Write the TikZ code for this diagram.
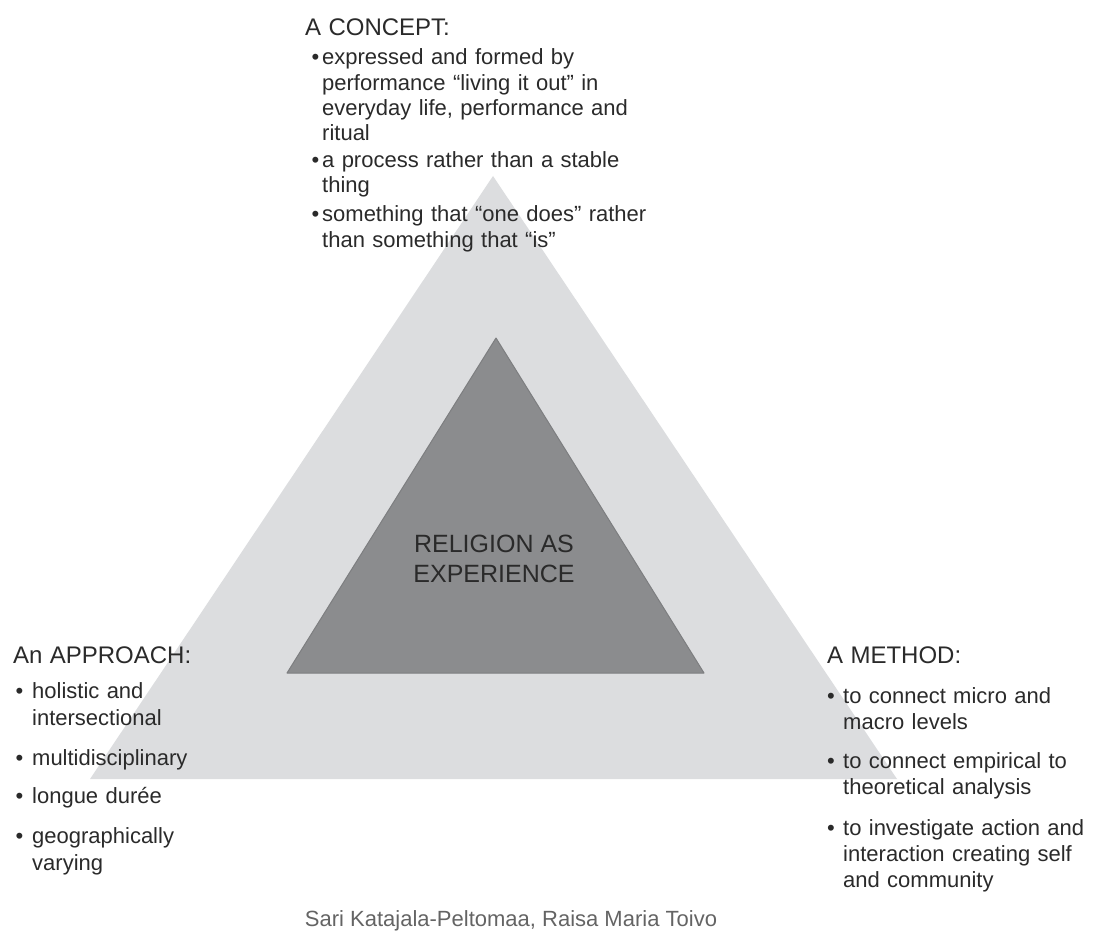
\documentclass[tikz,border=0pt]{standalone}
\usepackage{fontspec}
\setmainfont{Liberation Sans}
\definecolor{outergray}{HTML}{DCDDDF}
\definecolor{innergray}{HTML}{8B8C8E}
\definecolor{inneredge}{HTML}{7D7E80}
\definecolor{textdark}{HTML}{2A2A2A}
\definecolor{footgray}{HTML}{646464}
\newlength\bulshift
\newlength\bulind
\newcommand{\heading}[1]{{\fontsize{24}{28}\selectfont #1\par}}
\newcommand{\bitem}[2][0pt]{\par\vspace{#1}\noindent\hangindent=\bulind\hangafter=1\makebox[\bulind][l]{\hspace{\bulshift}\textbullet}#2\par}
\tikzset{
  block/.style={anchor=base west, inner sep=0pt, align=left, text=textdark,
    font=\fontsize{22}{#1}\selectfont}
}
\begin{document}
\begin{tikzpicture}[x=1pt, y=-1pt, line join=round]
			\useasboundingbox (0,0) rectangle (1105,933);
			\coordinate (OA) at (493,176);
			\coordinate (OL) at (90,779);
			\coordinate (OR) at (897,779);
			\coordinate (IA) at (496,338);
			\coordinate (IL) at (287,673);
			\coordinate (IR) at (704,673);
			% Hai tam giác
			\fill[outergray] (OA)--(OL)--(OR)--cycle;
			\filldraw[fill=innergray, draw=inneredge, line width=1pt] (IA)--(IL)--(IR)--cycle;
			\node[inner sep=0pt, align=center, text=textdark, font=\fontsize{25}{30}\selectfont] (core) at (494,558.5) {RELIGION AS\\EXPERIENCE};
			% Ba khối chữ
			\node[block=25.3, text width=360pt] (concept) at (305,36) {\setlength\bulshift{6.5pt}\setlength\bulind{17pt}%
				\heading{A CONCEPT:}
				\bitem[3.7pt]{expressed and formed by\newline performance “living it out” in\newline everyday life, performance and\newline ritual}
				\bitem[1.5pt]{a process rather than a stable\newline thing}
				\bitem[3.5pt]{something that “one does” rather\newline than something that “is”}};
			\node[block=27, text width=260pt] (approach) at (13,663) {\setlength\bulshift{2.5pt}\setlength\bulind{19pt}%
				\heading{An APPROACH:}
				\bitem[8pt]{holistic and\newline intersectional}
				\bitem[13pt]{multidisciplinary}
				\bitem[11pt]{longue durée}
				\bitem[13pt]{geographically\newline varying}};
			\node[block=26, text width=275pt] (method) at (827,663) {\setlength\bulshift{0pt}\setlength\bulind{16pt}%
				\heading{A METHOD:}
				\bitem[14pt]{to connect micro and\newline macro levels}
				\bitem[13pt]{to connect empirical to\newline theoretical analysis}
				\bitem[15pt]{to investigate action and\newline interaction creating self\newline and community}};
			\node[anchor=base, inner sep=0pt, text=footgray, font=\fontsize{22}{26}\selectfont] (credit) at (511,926) {Sari Katajala-Peltomaa, Raisa Maria Toivo};
		\end{tikzpicture}
\end{document}
